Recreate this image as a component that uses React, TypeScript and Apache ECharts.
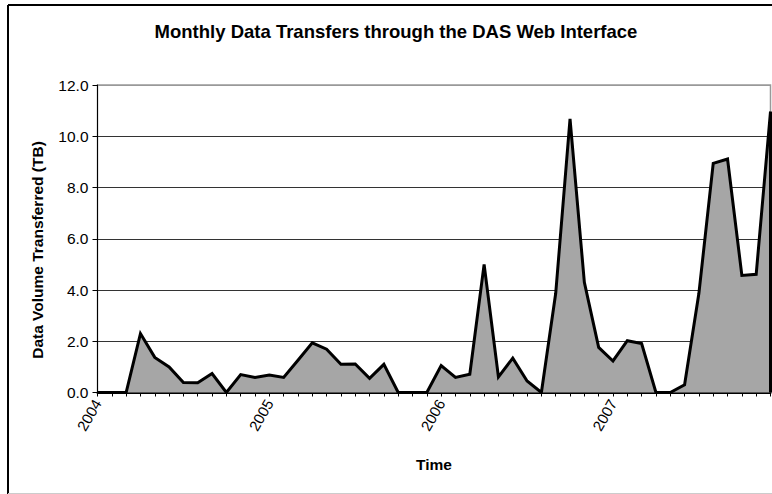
import React, { useEffect, useRef } from "react";
import * as echarts from "echarts";

const months: string[] = [];
for (const y of [2004, 2005, 2006, 2007]) {
  for (let m = 1; m <= 12; m++) months.push(`${y}-${String(m).padStart(2, "0")}`);
}

const volumeTB = [
  0, 0, 0, 2.3, 1.37, 1.0, 0.39, 0.38, 0.74, 0, 0.7, 0.59,
  0.68, 0.59, 1.26, 1.94, 1.69, 1.1, 1.11, 0.55, 1.1, 0, 0, 0,
  1.05, 0.59, 0.71, 5.0, 0.61, 1.34, 0.45, 0, 3.87, 10.68, 4.3, 1.76,
  1.23, 2.02, 1.91, 0, 0, 0.3, 3.87, 8.94, 9.11, 4.57, 4.61, 10.96,
];

const yTicks = { min: 0, max: 12, interval: 2 };

const TITLE = "Monthly Data Transfers through the DAS Web Interface";
const Y_NAME = "Data Volume Transferred (TB)";
const X_NAME = "Time";

const FONT = "Liberation Sans, Arial, sans-serif";

export default function App() {
  const ref = useRef<HTMLDivElement>(null);
  useEffect(() => {
    if (!ref.current) return;
    const chart = echarts.init(ref.current, undefined, { renderer: "svg" });
    const lastIdx = volumeTB.length - 1;
    chart.setOption({
      animation: false,
      backgroundColor: "#fff",
      title: {
        text: TITLE,
        left: 391,
        textAlign: "center",
        top: 17,
        textStyle: { fontFamily: FONT, fontSize: 18.5, fontWeight: "bold", color: "#000" },
      },
      graphic: [
        { type: "line", shape: { x1: 8, y1: 5, x2: 772, y2: 5 }, style: { stroke: "#000", lineWidth: 2 } },
        { type: "line", shape: { x1: 8, y1: 5, x2: 8, y2: 494 }, style: { stroke: "#000", lineWidth: 2 } },
        { type: "line", shape: { x1: 8, y1: 493.5, x2: 772, y2: 493.5 }, style: { stroke: "#ccc", lineWidth: 1 } },
        {
          type: "text",
          x: 37,
          y: 250,
          rotation: Math.PI / 2,
          style: {
            text: Y_NAME,
            fontFamily: FONT,
            fontSize: 15.5,
            fontWeight: "bold",
            fill: "#000",
            textAlign: "center",
            textVerticalAlign: "middle",
          },
        },
      ],
      grid: {
        left: 97.5,
        right: 1.5,
        top: 85,
        bottom: 101.5,
        show: true,
        borderColor: "#999",
        borderWidth: 1.5,
      },
      xAxis: {
        type: "category",
        data: months,
        boundaryGap: false,
        name: X_NAME,
        nameLocation: "middle",
        nameGap: 64,
        nameTextStyle: { fontFamily: FONT, fontSize: 15.5, fontWeight: "bold", color: "#000" },
        axisLine: { lineStyle: { color: "#000", width: 2 } },
        axisTick: { show: true, interval: 0, length: 4, lineStyle: { color: "#000", width: 1 } },
        axisLabel: {
          interval: (i: number) => i % 12 === 0,
          formatter: (v: string) => v.slice(0, 4),
          rotate: 60,
          margin: 8,
          fontFamily: FONT,
          fontSize: 15,
          color: "#000",
        },
        splitLine: { show: false },
      },
      yAxis: {
        type: "value",
        min: yTicks.min,
        max: yTicks.max,
        interval: yTicks.interval,
        axisLine: { show: true, lineStyle: { color: "#000", width: 1 } },
        axisTick: { show: true, length: 5, lineStyle: { color: "#000" } },
        axisLabel: {
          formatter: (v: number) => v.toFixed(1),
          margin: 9,
          fontFamily: FONT,
          fontSize: 15.5,
          color: "#000",
        },
        splitLine: {
          show: true,
          lineStyle: { color: ["#000", "#333", "#333", "#333", "#333", "#333", "#999"], width: 1 },
        },
      },
      series: [
        {
          type: "line",
          data: volumeTB,
          symbol: "none",
          lineStyle: { color: "#000", width: 3, join: "miter" },
          areaStyle: { color: "#a6a6a6", opacity: 1 },
          markLine: {
            silent: true,
            symbol: "none",
            label: { show: false },
            lineStyle: { color: "#000", width: 3, type: "solid" },
            data: [[{ coord: [lastIdx, 0] }, { coord: [lastIdx, volumeTB[lastIdx]] }]],
          },
        },
      ],
    });
    return () => chart.dispose();
  }, []);
  return (
    <div
      ref={ref}
      style={{ position: "fixed", left: 0, top: 0, width: 772, height: 494 }}
    />
  );
}
